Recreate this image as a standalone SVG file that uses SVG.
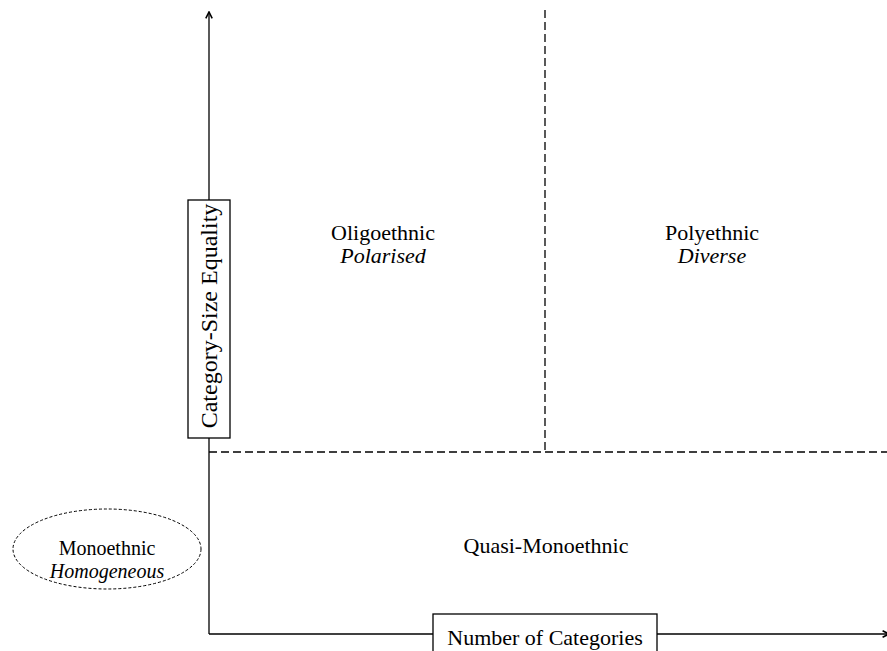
<svg xmlns="http://www.w3.org/2000/svg" width="887" height="651" viewBox="0 0 887 651">
<defs>
<style>
text{font-family:"Liberation Serif","Times New Roman",serif;font-size:22px;fill:#000;text-anchor:middle}
.it{font-style:italic}
.sm{font-size:20px}
.vt{font-size:24px}
.ln{stroke:#000;stroke-width:1.3;fill:none}
.dash{stroke:#000;stroke-width:1.3;fill:none;stroke-dasharray:8,4}
.box{fill:#fff;stroke:#000;stroke-width:1.3}
</style>
<marker id="arr" viewBox="0 0 10 10" refX="9" refY="5" markerWidth="8" markerHeight="8" orient="auto" markerUnits="userSpaceOnUse">
<path d="M1,1 L9,5 L1,9" fill="none" stroke="#000" stroke-width="2"/>
</marker>
</defs>
<rect width="887" height="651" fill="#fff"/>
<g id="connectors">
<line class="ln" x1="209" y1="634" x2="209" y2="12" marker-end="url(#arr)"/>
<line class="ln" x1="209" y1="634" x2="889" y2="634" marker-end="url(#arr)"/>
<line class="dash" x1="209" y1="452" x2="887" y2="452"/>
<line class="dash" x1="545" y1="10" x2="545" y2="452"/>
</g>
<g id="y-axis-label">
<rect class="box" x="188" y="200" width="42" height="238"/>
<text class="vt" transform="translate(217,316) rotate(-90)">Category-Size Equality</text>
</g>
<g id="x-axis-label">
<rect class="box" x="433" y="614" width="224" height="45"/>
<text x="545" y="645">Number of Categories</text>
</g>
<g id="oligoethnic">
<text x="383" y="240">Oligoethnic</text>
<text class="it" x="383" y="263">Polarised</text>
</g>
<g id="polyethnic">
<text x="712" y="240">Polyethnic</text>
<text class="it" x="712" y="263">Diverse</text>
</g>
<g id="quasi-monoethnic">
<text x="546" y="553">Quasi-Monoethnic</text>
</g>
<g id="monoethnic">
<ellipse cx="107" cy="549" rx="94" ry="40" fill="#fff" stroke="#000" stroke-width="1" stroke-dasharray="3,2"/>
<text class="sm" x="107" y="555">Monoethnic</text>
<text class="sm it" x="107" y="578">Homogeneous</text>
</g>
</svg>
